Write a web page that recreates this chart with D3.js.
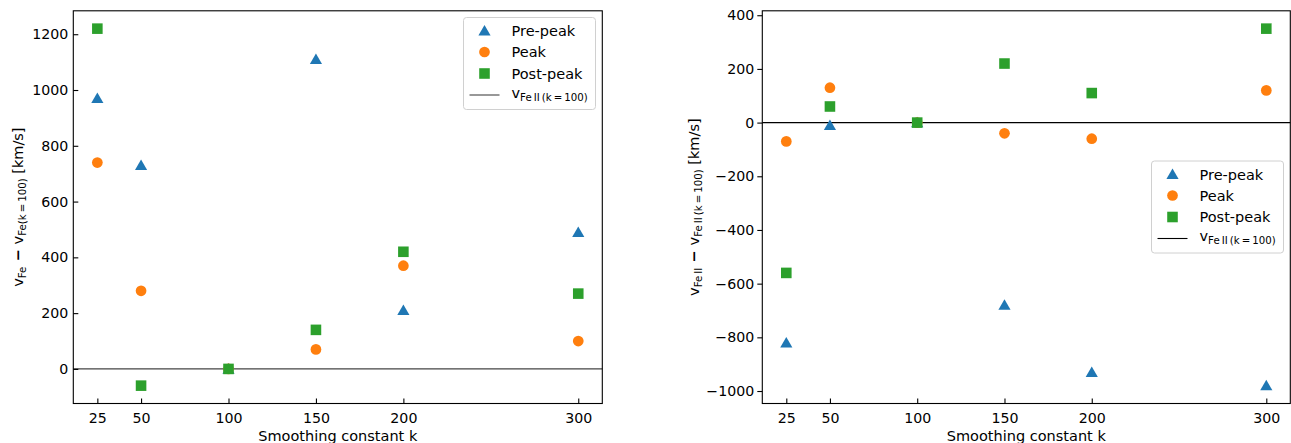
<!DOCTYPE html>
<html>
<head>
<meta charset="utf-8">
<script src="https://cdn.jsdelivr.net/npm/d3@7"></script>
<style>
  html, body { margin: 0; padding: 0; background: #fff; }
  svg text { font-family: "DejaVu Sans", sans-serif; fill: #000; }
</style>
</head>
<body>
<svg id="chart" width="1291" height="443"></svg>
<script>
// Smoothing constants (x positions)
const kValues = [25, 50, 100, 150, 200, 300];
const xTicks = [25, 50, 100, 150, 200, 300];

// Fe velocity shifts relative to k = 100 [km/s]
const feI_pre  = [970, 730, 0, 1110, 210, 490];
const feI_peak = [740, 280, 0, 70, 370, 100];
const feI_post = [1220, -60, 0, 140, 420, 270];

// Fe II velocity shifts relative to k = 100 [km/s]
const feII_pre  = [-820, -10, 0, -680, -930, -980];
const feII_peak = [-70, 130, 0, -40, -60, 120];
const feII_post = [-560, 60, 0, 220, 110, 350];

const yTicksLeft  = [0, 200, 400, 600, 800, 1000, 1200];
const yTicksRight = [-1000, -800, -600, -400, -200, 0, 200, 400];

const seriesNames = ["Pre-peak", "Peak", "Post-peak"];
const colors = ["#1f77b4", "#ff7f0e", "#2ca02c"];
const shapes = [d3.symbolTriangle, d3.symbolCircle, d3.symbolSquare];

const svg = d3.select("#chart");
const FS = 14.5;     // labels and legend
const TFS = 14.2;    // tick labels
const fmt = d3.format("d");

function padDomain(vals) {
  const lo = d3.min(vals), hi = d3.max(vals), m = (hi - lo) * 0.05;
  return [lo - m, hi + m];
}

function markerPath(i) {
  // sizes chosen so triangle/circle/square have similar visual extent
  const areas = [64, 90, 112];
  return d3.symbol().type(shapes[i]).size(areas[i])();
}

function drawPanel(opt) {
  const { x0, x1, y0, y1, series, yTicks, yTickDir, lineColor, legendPos, yLabelX, yLabelParts } = opt;
  const x = d3.scaleLinear().domain(padDomain(kValues)).range([x0, x1]);
  const allY = series.flat();
  const y = d3.scaleLinear().domain(padDomain(allY)).range([y1, y0]);
  const g = svg.append("g");

  // zero reference line
  g.append("line")
    .attr("x1", x0).attr("x2", x1)
    .attr("y1", y(0)).attr("y2", y(0))
    .attr("stroke", lineColor).attr("stroke-width", 1.1);

  // markers
  series.forEach((vals, si) => {
    g.append("g").selectAll("path")
      .data(kValues.map((k, i) => [k, vals[i]]))
      .join("path")
      .attr("d", markerPath(si))
      .attr("transform", d => `translate(${x(d[0])},${y(d[1]) + (si === 0 ? 1.2 : 0)})`)
      .attr("fill", colors[si]);
  });

  // x axis (ticks pointing inward)
  const xAxis = g.append("g")
    .attr("transform", `translate(0,${y1})`)
    .call(d3.axisBottom(x).tickValues(xTicks).tickFormat(fmt)
      .tickSizeInner(-5).tickSizeOuter(0).tickPadding(9));
  xAxis.select(".domain").remove();
  xAxis.selectAll(".tick line").attr("stroke", "#000").attr("stroke-width", 1.1);
  xAxis.selectAll("text").attr("font-size", TFS).attr("font-family", "DejaVu Sans");

  // y axis
  const inward = yTickDir === "in";
  const yAxis = g.append("g")
    .attr("transform", `translate(${x0},0)`)
    .call(d3.axisLeft(y).tickValues(yTicks).tickFormat(fmt)
      .tickSizeInner(inward ? -5 : 5).tickSizeOuter(0)
      .tickPadding(inward ? 5 : 3));
  yAxis.select(".domain").remove();
  yAxis.selectAll(".tick line").attr("stroke", "#000").attr("stroke-width", 1.1);
  yAxis.selectAll("text").attr("font-size", TFS).attr("font-family", "DejaVu Sans")
    .attr("x", inward ? -5 : -8);

  // frame
  g.append("rect")
    .attr("x", x0).attr("y", y0)
    .attr("width", x1 - x0).attr("height", y1 - y0)
    .attr("fill", "none").attr("stroke", "#000").attr("stroke-width", 1.1);

  // x label
  g.append("text")
    .attr("x", (x0 + x1) / 2).attr("y", 441)
    .attr("text-anchor", "middle").attr("font-size", FS)
    .text("Smoothing constant k");

  // y label with subscripts
  const yl = g.append("text")
    .attr("transform", `translate(${yLabelX},${(y0 + y1) / 2}) rotate(-90)`)
    .attr("text-anchor", "middle").attr("font-size", FS);
  yLabelParts.forEach(p => {
    const t = yl.append("tspan").text(p.t);
    if (p.sub) t.attr("font-size", 10.2).attr("dy", 3);
    if (p.up) t.attr("dy", -3);
    if (p.bold) t.attr("font-weight", "bold");
  });

  // legend
  const lg = g.append("g").attr("transform", `translate(${legendPos[0]},${legendPos[1]})`);
  lg.append("rect")
    .attr("x", 0).attr("y", 0).attr("width", 132).attr("height", 92)
    .attr("rx", 3).attr("ry", 3)
    .attr("fill", "#fff").attr("fill-opacity", 0.8)
    .attr("stroke", "#d0d0d0").attr("stroke-width", 1);
  const rowY = [13.5, 34.5, 56, 77.5];
  seriesNames.forEach((name, i) => {
    lg.append("path").attr("d", markerPath(i))
      .attr("transform", `translate(21,${rowY[i] + (i === 0 ? 1 : 0)})`)
      .attr("fill", colors[i]);
    lg.append("text").attr("x", 48).attr("y", rowY[i]).attr("dy", "0.36em")
      .attr("font-size", FS).text(name);
  });
  lg.append("line").attr("x1", 6).attr("x2", 36)
    .attr("y1", rowY[3]).attr("y2", rowY[3])
    .attr("stroke", lineColor).attr("stroke-width", 1.1);
  const lt = lg.append("text").attr("x", 48).attr("y", rowY[3]).attr("dy", "0.2em")
    .attr("font-size", FS);
  lt.append("tspan").text("v");
  lt.append("tspan").attr("font-size", 10.2).attr("dy", 3).text("Fe\u2009II\u2009(k\u2009=\u2009100)");
}

drawPanel({
  x0: 73.3, x1: 602.3, y0: 10.8, y1: 403.5,
  series: [feI_pre, feI_peak, feI_post],
  yTicks: yTicksLeft, yTickDir: "in", lineColor: "#444",
  legendPos: [463.5, 17.5], yLabelX: 22.5,
  yLabelParts: [
    { t: "v" }, { t: "Fe", sub: true }, { t: " \u2212 ", up: true, bold: true }, { t: "v" },
    { t: "Fe(k\u2009=\u2009100)", sub: true }, { t: " [km/s]", up: true }
  ]
});

drawPanel({
  x0: 762.3, x1: 1290.3, y0: 10.8, y1: 403.5,
  series: [feII_pre, feII_peak, feII_post],
  yTicks: yTicksRight, yTickDir: "out", lineColor: "#000",
  legendPos: [1151.5, 161], yLabelX: 698.5,
  yLabelParts: [
    { t: "v" }, { t: "Fe\u2009II", sub: true }, { t: " \u2212 ", up: true, bold: true }, { t: "v" },
    { t: "Fe\u2009II\u2009(k\u2009=\u2009100)", sub: true }, { t: " [km/s]", up: true }
  ]
});
</script>
</body>
</html>
